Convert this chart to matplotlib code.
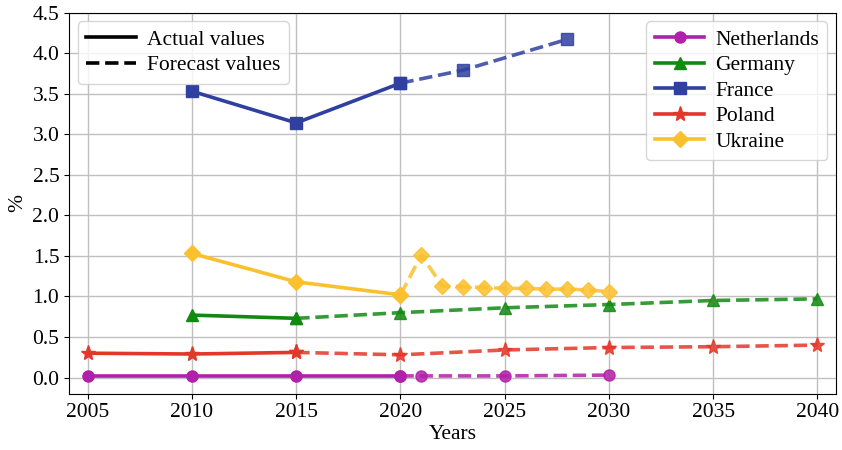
import matplotlib.pyplot as plt
from matplotlib.lines import Line2D

plt.rcParams['font.family'] = ['Liberation Serif', 'DejaVu Serif']
plt.rcParams['font.size'] = 15.5

# actual values
nl_years = [2005, 2010, 2015, 2020]
nl_vals = [0.02, 0.02, 0.02, 0.02]
de_years = [2010, 2015]
de_vals = [0.77, 0.73]
fr_years = [2010, 2015, 2020]
fr_vals = [3.53, 3.14, 3.63]
pl_years = [2005, 2010, 2015]
pl_vals = [0.30, 0.29, 0.31]
ua_years = [2010, 2015, 2020]
ua_vals = [1.53, 1.18, 1.02]

# forecast values
nl_fc_years = [2020, 2021, 2025, 2030]
nl_fc_vals = [0.02, 0.02, 0.02, 0.03]
de_fc_years = [2015, 2020, 2025, 2030, 2035, 2040]
de_fc_vals = [0.73, 0.80, 0.86, 0.90, 0.95, 0.97]
fr_fc_years = [2020, 2023, 2028]
fr_fc_vals = [3.63, 3.79, 4.17]
pl_fc_years = [2015, 2020, 2025, 2030, 2035, 2040]
pl_fc_vals = [0.31, 0.28, 0.34, 0.37, 0.38, 0.40]
ua_fc_years = [2020, 2021, 2022, 2023, 2024, 2025, 2026, 2027, 2028, 2029, 2030]
ua_fc_vals = [1.02, 1.51, 1.13, 1.12, 1.11, 1.10, 1.10, 1.09, 1.09, 1.08, 1.06]

series = [
    ('Netherlands', '#b020a8', 'o', nl_years, nl_vals, nl_fc_years, nl_fc_vals),
    ('Germany', '#128a12', '^', de_years, de_vals, de_fc_years, de_fc_vals),
    ('France', '#3040a0', 's', fr_years, fr_vals, fr_fc_years, fr_fc_vals),
    ('Poland', '#e3372a', '*', pl_years, pl_vals, pl_fc_years, pl_fc_vals),
    ('Ukraine', '#fbc02d', 'D', ua_years, ua_vals, ua_fc_years, ua_fc_vals),
]

fig, ax = plt.subplots(figsize=(8.42, 4.5), dpi=100)

handles = []
for name, color, marker, yrs, vals, fyrs, fvals in series:
    ms = 11 if marker == '*' else 8
    ax.plot(fyrs, fvals, '--', color=color, marker=marker, lw=2.6, ms=ms, alpha=0.85)
    h, = ax.plot(yrs, vals, '-', color=color, marker=marker, lw=2.6, ms=ms, label=name)
    handles.append(h)

ax.set_xlim(2004.1, 2040.9)
ax.set_ylim(-0.2, 4.5)
ax.set_xticks(range(2005, 2041, 5))
ax.set_yticks([i * 0.5 for i in range(10)])
ax.set_xlabel('Years', labelpad=2)
ax.set_ylabel('%')
ax.grid(True, color='#c0c0c0', lw=1)
ax.set_axisbelow(True)

style_handles = [Line2D([], [], color='black', lw=2.6, ls='-'),
                 Line2D([], [], color='black', lw=2.6, ls='--')]
leg1 = ax.legend(style_handles, ['Actual values', 'Forecast values'], loc='upper left',
                 handlelength=2.3, handletextpad=0.5, labelspacing=0.25, borderaxespad=0.4)
ax.add_artist(leg1)
ax.legend(handles=handles, loc='upper right', handlelength=2.3, handletextpad=0.5,
          labelspacing=0.25, borderaxespad=0.4)

fig.subplots_adjust(left=0.082, right=0.993, top=0.972, bottom=0.125)
fig.savefig('out.png', dpi=100)
